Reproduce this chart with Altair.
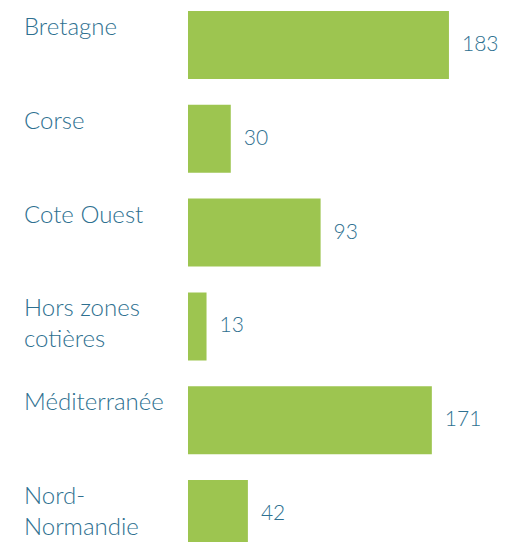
import altair as alt
import pandas as pd

categories = ["Bretagne", "Corse", "Cote Ouest", "Hors zones\ncotières", "Méditerranée", "Nord-\nNormandie"]
values = [183, 30, 93, 13, 171, 42]

df = pd.DataFrame({"zone": categories, "n": values})

BAR = "#9dc550"
TXT = "#2e7090"

y_scale = alt.Scale(paddingInner=0.275, paddingOuter=0.032)
x_scale = alt.Scale(domain=[0, 218.8])

base = alt.Chart(df)

bars = base.mark_bar(color=BAR).encode(
    y=alt.Y("zone:N", sort=categories, axis=None, scale=y_scale),
    x=alt.X("n:Q", axis=None, scale=x_scale),
)

vals = base.mark_text(align="left", baseline="middle", dx=13, fontSize=21,
                      font="Lato", fontWeight=300, color=TXT).encode(
    y=alt.Y("zone:N", sort=categories, axis=None, scale=y_scale),
    x=alt.X("n:Q", axis=None, scale=x_scale),
    text=alt.Text("n:Q"),
)

labels = base.mark_text(align="left", baseline="alphabetic", dy=24, fontSize=24,
                        font="Lato", fontWeight=300, color=TXT, lineBreak="\n",
                        lineHeight=31).encode(
    y=alt.Y("zone:N", sort=categories, axis=None, scale=y_scale, bandPosition=0),
    x=alt.value(-164),
    text=alt.Text("zone:N"),
)

chart = alt.layer(bars, vals, labels).properties(
    width=312,
    height=543,
    padding={"left": 180, "top": 0, "right": 0, "bottom": 0},
    autosize=alt.AutoSizeParams(type="none"),
).configure_view(stroke=None)

chart.save("out.html", embed_options={"renderer": "svg", "actions": False})
